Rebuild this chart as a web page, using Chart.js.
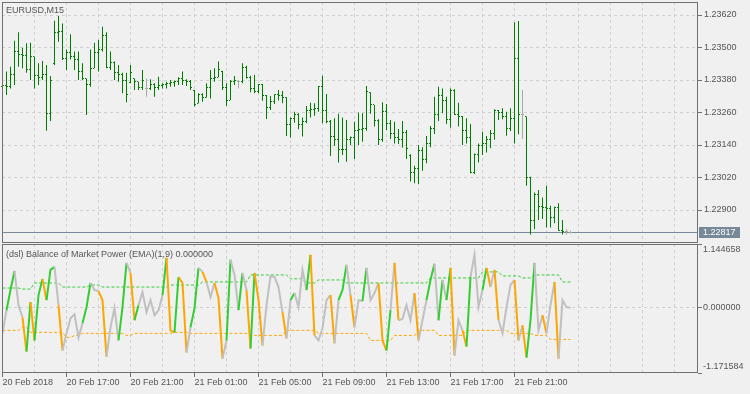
<!DOCTYPE html>
<html><head><meta charset="utf-8">
<script src="https://cdn.jsdelivr.net/npm/chart.js@4.4.1/dist/chart.umd.min.js"></script>
<style>
html,body{margin:0;padding:0;background:#f0f0f0;width:750px;height:394px;overflow:hidden}
#c1{position:absolute;left:0;top:0}
#c2{position:absolute;left:0;top:244px}
</style></head><body>
<canvas id="c1" width="750" height="244"></canvas>
<canvas id="c2" width="750" height="150"></canvas>
<script>
// ---------------- data ----------------
const symbolLabel = 'EURUSD,M15';
const indicatorName = '(dsl) Balance of Market Power (EMA)(1,9)';
const lastPrice = 1.22817;
const priceTicks = [1.22900, 1.23020, 1.23140, 1.23260, 1.23380, 1.23500, 1.23620];
const timeLabels = ['20 Feb 2018','20 Feb 17:00','20 Feb 21:00','21 Feb 01:00','21 Feb 05:00','21 Feb 09:00','21 Feb 13:00','21 Feb 17:00','21 Feb 21:00'];

const barOpen = [
1.23355,1.23358,1.23355,1.23399,1.23485,1.23475,1.23472,1.23417,1.23465,1.23395,
1.23390,1.23400,1.23255,1.23440,1.23554,1.23558,1.23461,1.23483,1.23465,1.23454,
1.23410,1.23386,1.23362,1.23423,1.23483,1.23491,1.23546,1.23428,1.23443,1.23406,
1.23400,1.23380,1.23370,1.23384,1.23373,1.23351,1.23347,1.23347,1.23362,1.23351,
1.23358,1.23362,1.23366,1.23370,1.23373,1.23384,1.23380,1.23373,1.23340,1.23294,
1.23325,1.23317,1.23351,1.23384,1.23391,1.23410,1.23351,1.23306,1.23373,1.23373,
1.23373,1.23428,1.23391,1.23349,1.23339,1.23364,1.23321,1.23278,1.23300,1.23325,
1.23321,1.23316,1.23217,1.23239,1.23251,1.23214,1.23226,1.23269,1.23272,1.23276,
1.23355,1.23269,1.23226,1.23171,1.23159,1.23124,1.23122,1.23162,1.23167,1.23195,
1.23198,1.23202,1.23335,1.23288,1.23229,1.23159,1.23263,1.23218,1.23183,1.23169,
1.23159,1.23186,1.23100,1.23039,1.23054,1.23118,1.23087,1.23146,1.23202,1.23251,
1.23321,1.23304,1.23235,1.23343,1.23251,1.23247,1.23195,1.23169,1.23039,1.23106,
1.23140,1.23144,1.23159,1.23181,1.23267,1.23260,1.23247,1.23202,1.23239,1.23458,
1.23251,1.23245,1.23021,1.22861,1.22959,1.22912,1.22910,1.22905,1.22873,1.22909,
1.22823,1.22820,1.22817];
const barHigh = [
1.23368,1.23411,1.23429,1.23525,1.23556,1.23499,1.23516,1.23518,1.23466,1.23442,
1.23450,1.23435,1.23395,1.23599,1.23616,1.23589,1.23493,1.23549,1.23485,1.23485,
1.23442,1.23386,1.23493,1.23518,1.23528,1.23577,1.23556,1.23485,1.23448,1.23435,
1.23407,1.23407,1.23435,1.23386,1.23374,1.23417,1.23386,1.23383,1.23368,1.23392,
1.23368,1.23374,1.23380,1.23378,1.23390,1.23411,1.23383,1.23380,1.23343,1.23331,
1.23331,1.23368,1.23417,1.23423,1.23448,1.23414,1.23368,1.23380,1.23395,1.23380,
1.23442,1.23433,1.23396,1.23399,1.23365,1.23365,1.23325,1.23321,1.23327,1.23343,
1.23339,1.23316,1.23242,1.23263,1.23257,1.23242,1.23284,1.23296,1.23294,1.23358,
1.23396,1.23328,1.23232,1.23239,1.23255,1.23242,1.23232,1.23171,1.23226,1.23259,
1.23257,1.23358,1.23335,1.23288,1.23235,1.23298,1.23291,1.23232,1.23226,1.23199,
1.23229,1.23195,1.23106,1.23063,1.23140,1.23132,1.23173,1.23210,1.23318,1.23355,
1.23349,1.23318,1.23349,1.23346,1.23296,1.23247,1.23239,1.23218,1.23109,1.23146,
1.23189,1.23173,1.23195,1.23272,1.23269,1.23276,1.23263,1.23276,1.23593,1.23598,
1.23343,1.23245,1.23023,1.22965,1.22974,1.22946,1.22990,1.22916,1.22912,1.22925,
1.22863,1.22829,1.22823];
const barLow = [
1.23349,1.23325,1.23349,1.23362,1.23429,1.23423,1.23407,1.23380,1.23349,1.23362,
1.23380,1.23193,1.23229,1.23435,1.23521,1.23454,1.23417,1.23456,1.23417,1.23380,
1.23380,1.23251,1.23355,1.23423,1.23411,1.23485,1.23423,1.23417,1.23380,1.23374,
1.23331,1.23298,1.23368,1.23343,1.23343,1.23343,1.23318,1.23343,1.23318,1.23343,
1.23349,1.23349,1.23355,1.23355,1.23362,1.23362,1.23358,1.23343,1.23282,1.23294,
1.23300,1.23315,1.23312,1.23374,1.23390,1.23343,1.23284,1.23306,1.23362,1.23349,
1.23368,1.23386,1.23335,1.23331,1.23331,1.23303,1.23236,1.23269,1.23291,1.23304,
1.23294,1.23173,1.23167,1.23222,1.23198,1.23171,1.23220,1.23242,1.23248,1.23263,
1.23220,1.23220,1.23099,1.23136,1.23075,1.23103,1.23078,1.23140,1.23088,1.23140,
1.23152,1.23193,1.23255,1.23208,1.23140,1.23152,1.23195,1.23162,1.23146,1.23144,
1.23130,1.23088,1.23005,1.22999,1.22996,1.23045,1.23073,1.23132,1.23181,1.23229,
1.23257,1.23218,1.23204,1.23251,1.23208,1.23140,1.23146,1.23036,1.23033,1.23075,
1.23103,1.23112,1.23128,1.23159,1.23232,1.23235,1.23174,1.23192,1.23146,1.23180,
1.23162,1.22990,1.22810,1.22830,1.22863,1.22867,1.22835,1.22835,1.22851,1.22823,
1.22810,1.22810,1.22812];
const barClose = [
1.23358,1.23355,1.23399,1.23485,1.23475,1.23472,1.23417,1.23465,1.23395,1.23390,
1.23400,1.23255,1.23380,1.23554,1.23558,1.23461,1.23483,1.23465,1.23454,1.23410,
1.23387,1.23362,1.23421,1.23483,1.23491,1.23546,1.23428,1.23443,1.23406,1.23400,
1.23380,1.23325,1.23406,1.23373,1.23351,1.23380,1.23347,1.23362,1.23351,1.23358,
1.23362,1.23366,1.23370,1.23373,1.23384,1.23380,1.23373,1.23351,1.23291,1.23325,
1.23317,1.23351,1.23384,1.23391,1.23417,1.23351,1.23306,1.23373,1.23380,1.23373,
1.23428,1.23391,1.23349,1.23339,1.23364,1.23321,1.23278,1.23300,1.23325,1.23321,
1.23316,1.23217,1.23239,1.23251,1.23214,1.23226,1.23269,1.23272,1.23276,1.23355,
1.23269,1.23226,1.23171,1.23159,1.23124,1.23122,1.23162,1.23167,1.23195,1.23198,
1.23202,1.23337,1.23288,1.23229,1.23159,1.23263,1.23218,1.23183,1.23169,1.23159,
1.23186,1.23128,1.23039,1.23054,1.23118,1.23087,1.23146,1.23202,1.23251,1.23321,
1.23304,1.23235,1.23343,1.23251,1.23247,1.23195,1.23169,1.23039,1.23106,1.23140,
1.23144,1.23159,1.23181,1.23267,1.23260,1.23247,1.23202,1.23239,1.23458,1.23251,
1.23251,1.23021,1.22861,1.22959,1.22912,1.22910,1.22905,1.22873,1.22909,1.22823,
1.22820,1.22820,1.22817];

const bmpValue = [
-0.460,-0.044,0.318,0.662,0.046,-0.171,-0.786,0.101,-0.587,0.227,
0.517,0.137,0.680,0.734,0.046,-0.768,-0.460,-0.189,-0.117,-0.533,
-0.279,0.010,0.444,0.318,0.300,0.137,-0.877,-0.352,-0.008,-0.587,
0.010,0.806,0.625,-0.225,0.046,0.282,-0.080,0.137,-0.135,-0.044,
0.227,0.897,-0.406,-0.442,0.553,0.444,-0.804,-0.352,-0.008,0.716,
0.644,0.463,0.191,0.444,0.173,-0.913,-0.587,0.861,0.589,-0.044,
0.625,0.318,-0.732,0.625,0.137,-0.678,0.046,0.571,0.553,0.372,
-0.080,-0.551,0.137,0.264,0.010,0.680,0.318,0.951,-0.497,-0.587,
-0.370,0.137,0.227,-0.641,0.137,0.318,0.770,0.227,-0.352,0.137,
0.120,0.716,0.137,0.264,0.444,-0.587,-0.768,-0.044,0.806,-0.225,
-0.200,0.046,-0.225,0.264,-0.587,-0.225,0.137,0.499,0.788,-0.225,
0.499,0.137,0.716,-0.858,-0.225,-0.406,-0.696,0.553,0.951,0.010,
0.318,0.716,0.372,0.680,-0.225,-0.460,0.010,0.408,0.499,-0.587,
-0.316,-0.895,-0.225,0.806,-0.406,-0.135,-0.460,0.046,0.463,-0.913,
0.137,0.010,0.000];
// u = rising colour, d = falling colour, n = neutral
const bmpState = [
'n','n','u','u','n','n','d','u','d','u',
'u','d','u','u','n','d','n','n','n','n',
'n','u','u','n','n','d','d','n','n','n',
'u','u','n','d','u','n','n','n','n','n',
'n','u','d','d','u','d','d','n','u','u',
'n','d','n','n','d','d','n','u','n','n',
'u','n','d','u','d','d','n','n','n','n',
'n','d','n','u','n','n','n','u','d','n',
'n','n','n','d','n','u','u','n','d','n',
'n','u','n','n','n','d','d','u','n','d',
'n','n','n','n','d','n','n','u','u','n',
'u','n','u','d','n','n','d','u','n','n',
'n','u','d','n','d','n','n','n','n','d',
'n','d','u','u','n','n','d','n','n','d',
'n','n','n'];
const levelUp = [
0.354,0.354,0.354,0.354,0.354,0.335,0.335,0.335,0.445,0.445,
0.445,0.445,0.445,0.445,0.445,0.372,0.372,0.372,0.372,0.372,
0.372,0.372,0.408,0.408,0.408,0.372,0.372,0.372,0.372,0.372,
0.372,0.372,0.372,0.372,0.372,0.372,0.372,0.372,0.372,0.372,
0.372,0.372,0.408,0.408,0.408,0.408,0.408,0.408,0.408,0.408,
0.463,0.463,0.463,0.463,0.463,0.463,0.463,0.463,0.463,0.463,
0.463,0.463,0.589,0.589,0.589,0.589,0.589,0.589,0.589,0.589,
0.589,0.589,0.520,0.520,0.520,0.520,0.445,0.445,0.445,0.499,
0.499,0.499,0.499,0.499,0.499,0.499,0.445,0.445,0.445,0.445,
0.445,0.445,0.445,0.445,0.445,0.445,0.445,0.445,0.445,0.445,
0.445,0.445,0.445,0.445,0.445,0.445,0.445,0.535,0.535,0.535,
0.535,0.535,0.535,0.535,0.535,0.535,0.535,0.535,0.535,0.535,
0.644,0.644,0.644,0.644,0.644,0.571,0.571,0.571,0.571,0.571,
0.535,0.535,0.535,0.589,0.589,0.589,0.589,0.589,0.589,0.589,
0.463,0.463,0.463];
const levelDown = [
-0.406,-0.406,-0.406,-0.406,-0.406,-0.352,-0.352,-0.442,-0.442,-0.442,
-0.442,-0.442,-0.442,-0.442,-0.442,-0.442,-0.533,-0.533,-0.497,-0.497,
-0.460,-0.460,-0.460,-0.460,-0.460,-0.460,-0.460,-0.460,-0.460,-0.460,
-0.460,-0.497,-0.497,-0.460,-0.460,-0.460,-0.460,-0.460,-0.460,-0.460,
-0.460,-0.460,-0.460,-0.442,-0.442,-0.442,-0.442,-0.460,-0.460,-0.460,
-0.460,-0.460,-0.460,-0.460,-0.460,-0.460,-0.460,-0.460,-0.460,-0.460,
-0.460,-0.460,-0.497,-0.497,-0.497,-0.497,-0.497,-0.497,-0.497,-0.497,
-0.497,-0.406,-0.406,-0.406,-0.406,-0.406,-0.406,-0.406,-0.406,-0.460,
-0.460,-0.460,-0.460,-0.460,-0.460,-0.460,-0.460,-0.460,-0.460,-0.460,
-0.460,-0.460,-0.587,-0.587,-0.587,-0.587,-0.587,-0.587,-0.497,-0.497,
-0.497,-0.497,-0.497,-0.497,-0.406,-0.406,-0.406,-0.406,-0.406,-0.497,
-0.497,-0.497,-0.497,-0.497,-0.497,-0.497,-0.406,-0.406,-0.406,-0.406,
-0.406,-0.406,-0.406,-0.406,-0.406,-0.406,-0.406,-0.460,-0.460,-0.460,
-0.460,-0.460,-0.460,-0.497,-0.497,-0.497,-0.497,-0.569,-0.569,-0.569,
-0.569,-0.569,-0.569];

// axis ranges
const PRICE_MIN = 1.227782, PRICE_MAX = 1.236680;
const OSC_MIN = -1.171584, OSC_MAX = 1.144658;
const X_MIN = -0.125, X_MAX = 173.875;
const GRID_STEP = 8, LABEL_STEP = 16, GRID_LAST = 168;

// ---------------- style ----------------
const FONT_FAMILY = '"Liberation Sans", Arial, sans-serif';
const FONT = {family: FONT_FAMILY, size: 9};
const TXT = '#555555', FRAME = '#707070', GRID = '#d0d0d0', NONE = 'rgba(0,0,0,0)';
const BAR_UP = '#007c00', BAR_FLAT = '#a8a8a8';
const STATE_COLOR = {u: '#32cd32', d: '#ffa500', n: '#c0c0c0'};
const PRICE_LINE = '#778899';

const idx = barClose.map((_, i) => i);
const barColor = idx.map(i => barOpen[i] === barClose[i] ? BAR_FLAT : BAR_UP);
const gridTicks = [];
for (let v = 0; v <= GRID_LAST; v += GRID_STEP) gridTicks.push(v);
const labelFor = v => (v % LABEL_STEP === 0 && v / LABEL_STEP < timeLabels.length) ? timeLabels[v / LABEL_STEP] : '';
const noPad = s => { s.paddingTop = 0; s.paddingBottom = 0; s.paddingLeft = 0; s.paddingRight = 0; };

function xAxis(withLabels) {
  return {
    type: 'linear', min: X_MIN, max: X_MAX, bounds: 'data', offset: false,
    afterBuildTicks: s => { s.ticks = gridTicks.map(v => ({value: v})); },
    afterFit: s => { s.height = withLabels ? 21 : 0; noPad(s); },
    grid: {
      offset: false, drawTicks: withLabels, tickLength: 4, tickBorderDash: [],
      color: c => (c.tick && c.tick.value === 0) ? NONE : GRID,
      tickColor: c => (c.tick && labelFor(c.tick.value) !== '') ? FRAME : NONE
    },
    border: {display: false, dash: [3, 3]},
    ticks: {display: withLabels, autoSkip: false, maxRotation: 0, minRotation: 0, align: 'start',
            padding: 0, font: FONT, color: TXT, callback: v => labelFor(v)}
  };
}

function frame(chart) {
  const a = chart.chartArea, ctx = chart.ctx;
  ctx.save();
  ctx.strokeStyle = FRAME; ctx.lineWidth = 1;
  ctx.strokeRect(a.left + 0.5, a.top + 0.5, a.right - a.left - 1, a.bottom - a.top - 1);
  ctx.restore();
}

const topDecor = {
  id: 'topDecor',
  beforeDraw(chart) {
    const ctx = chart.ctx;
    ctx.save(); ctx.fillStyle = '#f0f0f0'; ctx.fillRect(0, 0, chart.width, chart.height); ctx.restore();
  },
  beforeDatasetsDraw(chart) {
    const a = chart.chartArea, ctx = chart.ctx;
    const y = Math.floor(chart.scales.y.getPixelForValue(lastPrice)) + 0.5;
    ctx.save(); ctx.strokeStyle = PRICE_LINE; ctx.lineWidth = 1;
    ctx.beginPath(); ctx.moveTo(a.left, y); ctx.lineTo(a.right, y); ctx.stroke(); ctx.restore();
  },
  afterDatasetsDraw(chart) {
    const ctx = chart.ctx, xs = chart.scales.x, ys = chart.scales.y;
    ctx.save();
    idx.forEach(i => {
      const cx = Math.floor(xs.getPixelForValue(i));
      ctx.fillStyle = barColor[i];
      ctx.fillRect(cx - 1, Math.floor(ys.getPixelForValue(barOpen[i])), 1, 1);
      ctx.fillRect(cx + 1, Math.floor(ys.getPixelForValue(barClose[i])), 1, 1);
    });
    ctx.restore();
  },
  afterDraw(chart) {
    frame(chart);
    const ctx = chart.ctx, a = chart.chartArea;
    ctx.save();
    ctx.font = '9px ' + FONT_FAMILY;
    ctx.fillStyle = TXT; ctx.textBaseline = 'alphabetic'; ctx.textAlign = 'left';
    ctx.fillText(symbolLabel, 6, 13);
    const y = Math.floor(chart.scales.y.getPixelForValue(lastPrice));
    ctx.fillStyle = PRICE_LINE;
    ctx.fillRect(a.right + 1, y - 5, 41, 11);
    ctx.fillStyle = '#ffffff'; ctx.textBaseline = 'middle';
    ctx.fillText(lastPrice.toFixed(5), a.right + 5, y + 0.5);
    ctx.restore();
  }
};

const bottomDecor = {
  id: 'bottomDecor',
  beforeDraw(chart) {
    const ctx = chart.ctx;
    ctx.save(); ctx.fillStyle = '#f0f0f0'; ctx.fillRect(0, 0, chart.width, chart.height); ctx.restore();
  },
  afterDraw(chart) {
    frame(chart);
    const ctx = chart.ctx, a = chart.chartArea, ys = chart.scales.y;
    ctx.save();
    ctx.font = '9px ' + FONT_FAMILY;
    ctx.fillStyle = TXT; ctx.textAlign = 'left'; ctx.textBaseline = 'alphabetic';
    ctx.fillText(indicatorName + ' ' + bmpValue[bmpValue.length - 1].toFixed(6), 6, 13);
    ctx.textBaseline = 'middle';
    [OSC_MAX, 0, OSC_MIN].forEach(v => {
      let y = ys.getPixelForValue(v);
      y = Math.min(Math.max(y, a.top + 6), a.bottom - 6);
      ctx.fillText(v.toFixed(6), a.right + 5, y);
    });
    ctx.restore();
  }
};

Chart.defaults.font.family = FONT_FAMILY;

new Chart(document.getElementById('c1'), {
  type: 'bar',
  data: {datasets: [{
    data: idx.map(i => ({x: i, y: [barLow[i], barHigh[i]]})),
    backgroundColor: barColor, borderWidth: 0, barThickness: 1, inflateAmount: 0, grouped: false
  }]},
  options: {
    responsive: false, animation: false, devicePixelRatio: 1,
    layout: {padding: {left: 2, top: 2, right: 0, bottom: 1}},
    plugins: {legend: {display: false}, tooltip: {enabled: false}, title: {display: false}},
    scales: {
      x: xAxis(false),
      y: {
        type: 'linear', position: 'right', min: PRICE_MIN, max: PRICE_MAX, bounds: 'data',
        afterBuildTicks: s => { s.ticks = priceTicks.map(v => ({value: v})); },
        afterFit: s => { s.width = 52; noPad(s); },
        grid: {color: GRID, tickColor: FRAME, tickLength: 4, tickBorderDash: []},
        border: {display: false, dash: [3, 3]},
        ticks: {font: FONT, color: TXT, padding: 2, callback: v => Number(v).toFixed(5)}
      }
    }
  },
  plugins: [topDecor]
});

new Chart(document.getElementById('c2'), {
  type: 'line',
  data: {datasets: [
    {data: idx.map(i => ({x: i, y: bmpValue[i]})), borderColor: STATE_COLOR.n, borderWidth: 2,
     pointRadius: 0, tension: 0, borderJoinStyle: 'miter',
     segment: {borderColor: c => STATE_COLOR[bmpState[c.p1DataIndex]]}},
    {data: idx.map(i => ({x: i, y: levelUp[i]})), borderColor: STATE_COLOR.u, borderWidth: 1,
     borderDash: [3, 2], pointRadius: 0, tension: 0},
    {data: idx.map(i => ({x: i, y: levelDown[i]})), borderColor: STATE_COLOR.d, borderWidth: 1,
     borderDash: [3, 2], pointRadius: 0, tension: 0}
  ]},
  options: {
    responsive: false, animation: false, devicePixelRatio: 1,
    layout: {padding: {left: 2, top: 0, right: 0, bottom: 0}},
    plugins: {legend: {display: false}, tooltip: {enabled: false}, title: {display: false}},
    scales: {
      x: xAxis(true),
      y: {
        type: 'linear', position: 'right', min: OSC_MIN, max: OSC_MAX, bounds: 'data',
        afterBuildTicks: s => { s.ticks = [OSC_MIN, 0, OSC_MAX].map(v => ({value: v})); },
        afterFit: s => { s.width = 52; noPad(s); },
        grid: {color: c => (c.tick && c.tick.value === 0) ? GRID : NONE, tickColor: FRAME, tickLength: 4, tickBorderDash: []},
        border: {display: false, dash: [3, 3]},
        ticks: {display: false}
      }
    }
  },
  plugins: [bottomDecor]
});
</script>
</body></html>
